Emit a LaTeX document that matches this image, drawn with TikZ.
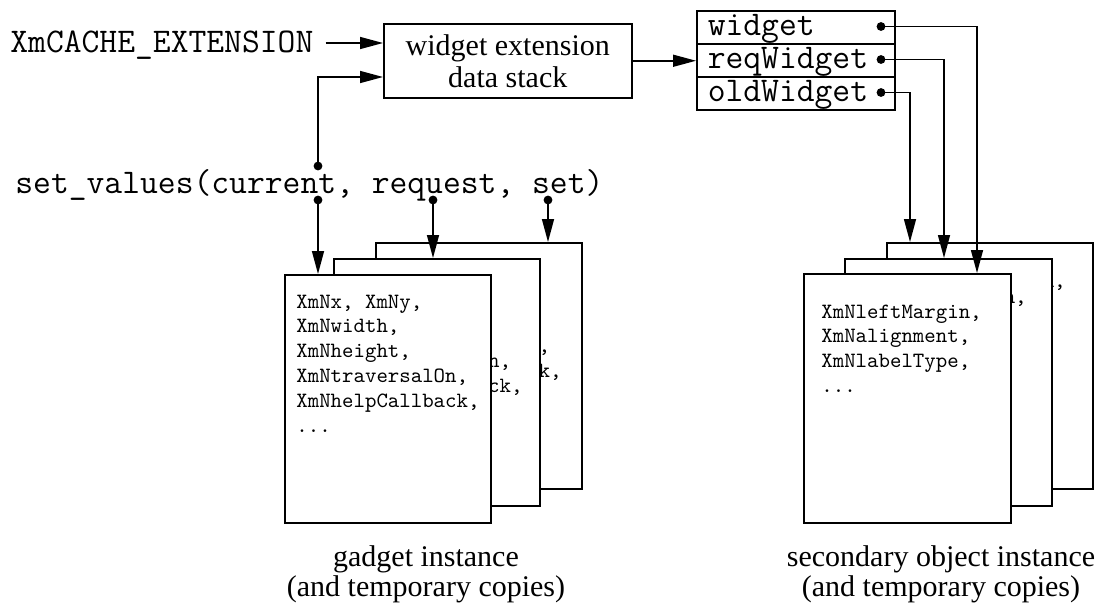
\documentclass[tikz,border=0pt]{standalone}
\usepackage{fontspec}
\setmainfont{Liberation Serif}
\usetikzlibrary{arrows.meta}
\begin{document}
\begin{tikzpicture}[x=0.5pt, y=-0.5pt,
  wire/.style={line width=0.75pt},
  arrow/.style={wire, -{Triangle[length=11.5pt,width=6pt]}},
  dot/.style={circle, fill=black, inner sep=0pt, minimum size=4.4pt},
  bigmono/.style={font=\ttfamily\fontsize{17.3pt}{18pt}\selectfont, inner sep=0pt},
  smallmono/.style={font=\ttfamily\fontsize{10.9pt}{12.45pt}\selectfont, inner sep=0pt, anchor=base west},
  caption/.style={font=\fontsize{15pt}{15pt}\selectfont, align=center, inner sep=0pt},
  card/.style={draw, wire, fill=white, anchor=north west, inner sep=0pt},
  slot/.style={draw, wire, anchor=north west, minimum width=99pt, minimum height=16.5pt,
    text width=88pt, align=left, inner xsep=5.5pt, text height=8.5pt, text depth=0pt,
    font=\ttfamily\fontsize{17.3pt}{18pt}\selectfont},
]
\useasboundingbox (0,0) rectangle (1103,605);

% resource list texts shown on each card
\newcommand{\gadgetres}{\begin{tabular}[t]{@{}l@{}}
XmNx, XmNy,\\ XmNwidth,\\ XmNheight,\\ XmNtraversalOn,\\ XmNhelpCallback,\\ ...
\end{tabular}}
\newcommand{\secres}{\begin{tabular}[t]{@{}l@{}}
XmNleftMargin,\\ XmNalignment,\\ XmNlabelType,\\ ...
\end{tabular}}

% cache entry point and the extension data stack
\node[bigmono, anchor=base west] (xmc) at (10,53) {XmCACHE\_EXTENSION};
\node[draw, wire, anchor=north west, minimum width=124pt, minimum height=37pt,
      inner sep=0pt, align=center, font=\fontsize{15pt}{16pt}\selectfont]
      (dstack) at (383,23) {widget extension\\data stack};

% extension record with its three widget pointers
\node[slot] (r1) at (696,10) {widget};
\node[slot] (r2) at (696,43) {reqWidget};
\node[slot] (r3) at (696,76) {oldWidget};
\node[dot] (dw) at (881,26.5) {};
\node[dot] (dr) at (881,59.5) {};
\node[dot] (do) at (881,92.5) {};

% set_values call and its argument pointers
\node[bigmono, anchor=base west] (setv) at (15,193) {set\_values(current, request, set)};
\node[dot] (cu) at (318,166) {};
\node[dot] (cd) at (318,200) {};
\node[dot] (rq) at (433,200) {};
\node[dot] (st) at (548,200) {};

% gadget instance and its temporary copies
\node[card, minimum width=103pt, minimum height=123pt] (g3) at (375,242) {};
\node[smallmono] (g3t) at (378,278) {\gadgetres};
\node[card, minimum width=103pt, minimum height=123.5pt] (g2) at (333,258) {};
\node[smallmono] (g2t) at (339,293) {\gadgetres};
\node[card, minimum width=103pt, minimum height=124pt] (g1) at (284,274) {};
\node[smallmono] (g1t) at (296,308) {\gadgetres};

% secondary object instance and its temporary copies
\node[card, minimum width=103pt, minimum height=123pt] (s3) at (886,242) {};
\node[smallmono] (s3t) at (905,287) {\secres};
\node[card, minimum width=103.5pt, minimum height=123.5pt] (s2) at (844,258) {};
\node[smallmono] (s2t) at (866,303) {\secres};
\node[card, minimum width=103.5pt, minimum height=124.5pt] (s1) at (803,273) {};
\node[smallmono] (s1t) at (821,318) {\secres};

% captions
\node[caption] (gcap) at (426,574) {gadget instance\\(and temporary copies)};
\node[caption] (scap) at (941,574) {secondary object instance\\(and temporary copies)};

% connectors
\draw[arrow, shorten <=6pt] (xmc.east |- 0,43) -- (dstack.west |- 0,43);
\draw[arrow] (cu.center) |- (dstack.west |- 0,77);
\draw[arrow] (dstack.east) -- (dstack.east -| r2.west);
\draw[arrow] (cd.center) -- (cd |- g1.north);
\draw[arrow] (rq.center) -- (rq |- g2.north);
\draw[arrow] (st.center) -- (st |- g3.north);
\draw[arrow] (dw.center) -| (977,0 |- s1.north);
\draw[arrow] (dr.center) -| (944,0 |- s2.north);
\draw[arrow] (do.center) -| (910,0 |- s3.north);
\end{tikzpicture}
\end{document}
